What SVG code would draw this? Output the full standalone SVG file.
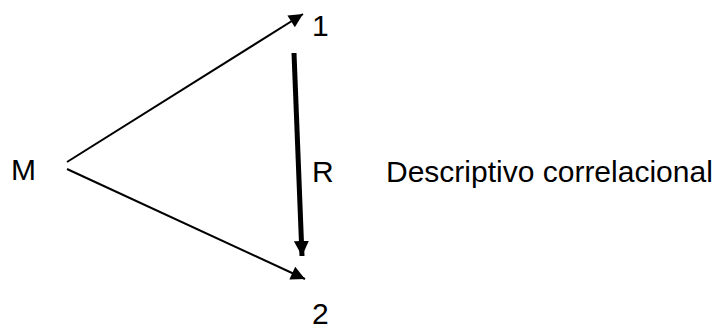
<svg xmlns="http://www.w3.org/2000/svg" width="723" height="330" viewBox="0 0 723 330">
<style>
text{font-family:"Liberation Sans",Arial,sans-serif;font-size:30px;fill:#000}
.thin{stroke:#000;stroke-width:2;fill:none}
.thick{stroke:#000;stroke-width:5;fill:none}
</style>
<defs>
<marker id="ah" viewBox="0 0 10 10" refX="10" refY="5" markerWidth="8" markerHeight="7" markerUnits="strokeWidth" orient="auto"><path d="M0,0L10,5L0,10z" fill="#000"/></marker>
<marker id="ahk" viewBox="0 0 10 10" refX="10" refY="5" markerWidth="3" markerHeight="3.2" markerUnits="strokeWidth" orient="auto"><path d="M0,0L10,5L0,10z" fill="#000"/></marker>
</defs>
<g id="nodeM"><text x="11" y="180">M</text></g>
<g id="node1"><text x="312" y="36">1</text></g>
<g id="node2"><text x="312" y="324">2</text></g>
<g id="labelR"><text x="312" y="182">R</text><text x="386" y="182">Descriptivo correlacional</text></g>
<g id="connectors">
<line class="thin" x1="67" y1="162" x2="303" y2="14" marker-end="url(#ah)"/>
<line class="thin" x1="67" y1="169" x2="305" y2="279" marker-end="url(#ah)"/>
<line class="thick" x1="294" y1="53" x2="302" y2="256" marker-end="url(#ahk)"/>
</g>
</svg>
